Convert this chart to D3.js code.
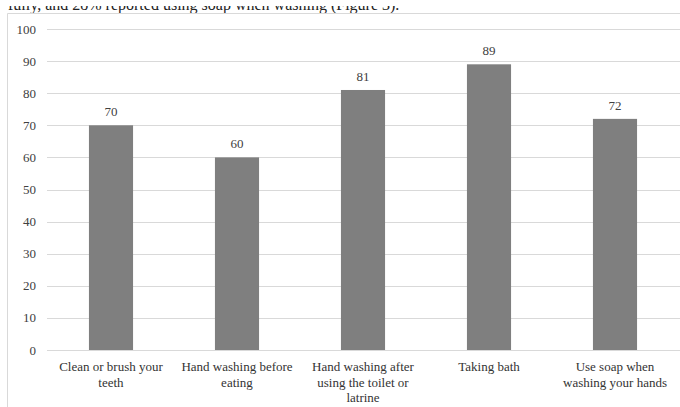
<!DOCTYPE html>
<html>
<head>
<meta charset="utf-8">
<script src="https://cdn.jsdelivr.net/npm/d3@7/dist/d3.min.js"></script>
<style>
  html, body { margin: 0; padding: 0; background: #fff; }
  svg { display: block; }
  text { font-family: "Liberation Serif", "Times New Roman", serif; fill: #404040; }
</style>
</head>
<body>
<svg id="chart" width="680" height="407"></svg>
<script>
const categories = [
  "Clean or brush your teeth",
  "Hand washing before eating",
  "Hand washing after using the toilet or latrine",
  "Taking bath",
  "Use soap when washing your hands"
];
const categoryLines = [
  ["Clean or brush your", "teeth"],
  ["Hand washing before", "eating"],
  ["Hand washing after", "using the toilet or", "latrine"],
  ["Taking bath"],
  ["Use soap when", "washing your hands"]
];
const values = [70, 60, 81, 89, 72];
const yTicks = [0, 10, 20, 30, 40, 50, 60, 70, 80, 90, 100];
const headingText = "fully, and 28% reported using soap when washing (Figure 3).";

const svg = d3.select("#chart");

// cut-off paragraph line above chart (only its lower part is visible)
svg.append("defs").append("clipPath").attr("id", "topclip")
  .append("rect").attr("x", 0).attr("y", 6).attr("width", 680).attr("height", 7);
svg.append("text")
  .attr("clip-path", "url(#topclip)")
  .attr("x", 8).attr("y", 10)
  .style("font-size", "16px").style("fill", "#222")
  .text(headingText);

// chart frame
svg.append("path")
  .attr("d", "M7.5,407 L7.5,13.5 L680,13.5")
  .attr("fill", "none").attr("stroke", "#d9d9d9").attr("stroke-width", 1);

const x = d3.scaleBand().domain(categories).range([48, 678])
  .paddingInner(0.65).paddingOuter(0.325);
const y = d3.scaleLinear().domain([0, 100]).range([350, 29]);

// gridlines
svg.append("g").selectAll("line").data(yTicks).join("line")
  .attr("x1", 47).attr("x2", 680)
  .attr("y1", d => Math.round(y(d)) + 0.5).attr("y2", d => Math.round(y(d)) + 0.5)
  .attr("stroke", "#d9d9d9").attr("stroke-width", 1);

// y tick labels
svg.append("g").selectAll("text").data(yTicks).join("text")
  .attr("x", 36).attr("y", d => y(d)).attr("dy", "0.35em")
  .attr("text-anchor", "end").style("font-size", "13px")
  .text(d => d);

// bars
svg.append("g").selectAll("rect").data(values).join("rect")
  .attr("x", (d, i) => x(categories[i]))
  .attr("width", x.bandwidth())
  .attr("y", d => y(d))
  .attr("height", d => y(0) - y(d))
  .attr("fill", "#7f7f7f");

// value labels
svg.append("g").selectAll("text").data(values).join("text")
  .attr("x", (d, i) => x(categories[i]) + x.bandwidth() / 2)
  .attr("y", d => y(d) - 9)
  .attr("text-anchor", "middle").style("font-size", "13px")
  .text(d => d);

// category labels
const cat = svg.append("g").selectAll("text").data(categoryLines).join("text")
  .attr("x", (d, i) => x(categories[i]) + x.bandwidth() / 2)
  .attr("y", 371)
  .attr("text-anchor", "middle").style("font-size", "13px").style("fill", "#333");
cat.selectAll("tspan").data(d => d).join("tspan")
  .attr("x", function () { return d3.select(this.parentNode).attr("x"); })
  .attr("dy", (d, i) => i === 0 ? 0 : 15.5)
  .text(d => d);
</script>
</body>
</html>
